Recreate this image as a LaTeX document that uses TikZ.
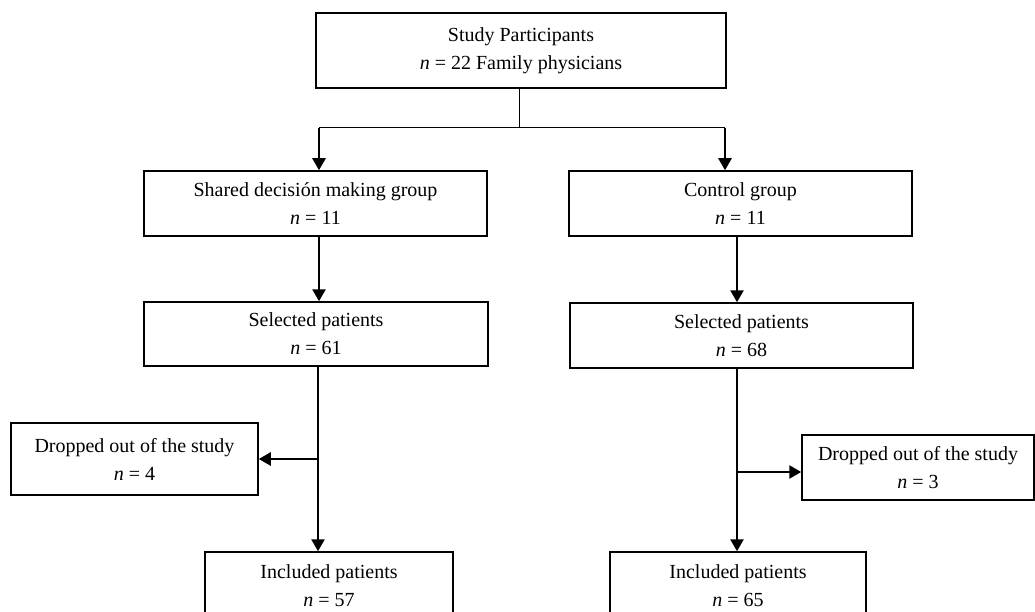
\documentclass[tikz,border=0pt]{standalone}
\usepackage{fontspec}
\setmainfont{Liberation Serif}
\usetikzlibrary{arrows.meta}
\begin{document}
\begin{tikzpicture}[x=1pt,y=-1pt,
  box/.style={draw, line width=1.5pt, align=center, inner sep=0pt, font=\fontsize{20}{28}\selectfont},
  thin/.style={line width=1pt},
  arr/.style={line width=2.6pt, -{Triangle[width=13pt,length=12pt]}}]
\useasboundingbox (0,0) rectangle (1035,612);
\clip (0,0) rectangle (1035,612);
\node[box, minimum width=410pt, minimum height=75pt] (top) at (521,50.5) {Study Participants\\\textit{n} = 22 Family physicians};
\node[box, minimum width=343pt, minimum height=65pt] (sdm) at (315.5,203.5) {Shared decisión making group\\\textit{n} = 11};
\node[box, minimum width=343pt, minimum height=65pt] (ctl) at (740.5,203.5) {Control group\\\textit{n} = 11};
\node[box, minimum width=344pt, minimum height=64pt] (selL) at (316,334) {Selected patients\\\textit{n} = 61};
\node[box, minimum width=343pt, minimum height=65pt] (selR) at (741.5,335.5) {Selected patients\\\textit{n} = 68};
\node[box, minimum width=247pt, minimum height=72pt] (dropL) at (134.5,459) {Dropped out of the study\\\textit{n} = 4};
\node[box, minimum width=232pt, minimum height=65pt] (dropR) at (918,467.5) {Dropped out of the study\\\textit{n} = 3};
\node[box, minimum width=248pt, minimum height=68pt] (incL) at (329,586) {Included patients\\\textit{n} = 57};
\node[box, minimum width=256pt, minimum height=68pt] (incR) at (738,586) {Included patients\\\textit{n} = 65};
\coordinate (mid) at (519,128);
\coordinate (jl) at (319,128);
\coordinate (jr) at (725,128);
\coordinate (bl) at (318,459);
\coordinate (br) at (737,472);
\draw[thin] (top.south -| mid) -- (mid);
\draw[thin] (jl) -- (jr);
\draw[arr] (jl) -- (jl |- sdm.north);
\draw[arr] (jr) -- (jr |- ctl.north);
\draw[arr] (sdm.south -| jl) -- (selL.north -| jl);
\draw[arr] (ctl.south -| br) -- (selR.north -| br);
\draw[arr] (selL.south -| bl) -- (incL.north -| bl);
\draw[arr] (bl) -- (dropL.east |- bl);
\draw[arr] (selR.south -| br) -- (incR.north -| br);
\draw[arr] (br) -- (dropR.west |- br);
\end{tikzpicture}
\end{document}
